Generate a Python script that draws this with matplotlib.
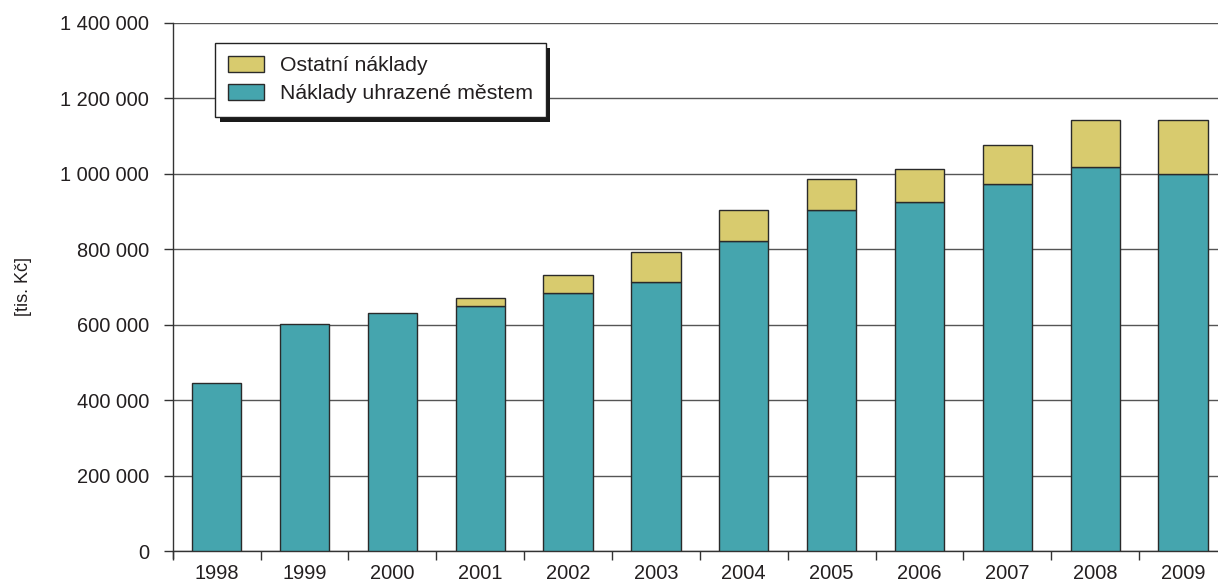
import matplotlib
matplotlib.use("Agg")
import matplotlib.pyplot as plt
import numpy as np
from matplotlib.patches import Rectangle, Patch
from matplotlib.transforms import IdentityTransform
from matplotlib.ticker import FuncFormatter, FixedLocator

years = ["1998", "1999", "2000", "2001", "2002", "2003", "2004", "2005", "2006", "2007", "2008", "2009"]
city_costs = [445000, 602000, 630000, 650000, 684000, 712000, 821000, 903000, 924000, 972000, 1019000, 999000]
other_costs = [0, 0, 0, 21000, 48000, 82000, 82000, 82000, 88000, 103000, 124000, 144000]
yticks = [0, 200000, 400000, 600000, 800000, 1000000, 1200000, 1400000]

TEAL = "#45A5AE"
YELLOW = "#D8CB6E"
TXT = "#231F20"
EDGE = "#2a2a2a"

plt.rcParams["font.family"] = ["Liberation Sans", "DejaVu Sans"]

fig = plt.figure(figsize=(12.18, 5.85), dpi=100)
W, H = 1218, 585
left, right, bottom, top = 172.7, 172.7 + 12 * 87.86, 551.3, 22.7
ax = fig.add_axes([left / W, (H - bottom) / H, (right - left) / W, (bottom - top) / H])

x = np.arange(len(years))
bw = 0.56
b1 = ax.bar(x, city_costs, width=bw, color=TEAL, edgecolor=EDGE, linewidth=1.0, zorder=3)
b2 = ax.bar(x, other_costs, width=bw, bottom=city_costs, color=YELLOW, edgecolor=EDGE,
            linewidth=1.0, zorder=3)
for rect, v in zip(b2, other_costs):
    if v == 0:
        rect.set_linewidth(0)

ax.set_xlim(-0.5, len(years) - 0.5)
ax.set_ylim(0, 1400000)

ax.yaxis.set_major_locator(FixedLocator(yticks))
ax.yaxis.set_major_formatter(FuncFormatter(lambda v, p: f"{int(v):,}".replace(",", " ")))
ax.grid(axis="y", color="#555555", linewidth=1.0, zorder=0)
ax.set_axisbelow(True)

ax.set_xticks(x)
ax.set_xticklabels(years)
ax.set_xticks(np.arange(-0.5, len(years), 1.0), minor=True)
ax.tick_params(axis="x", which="major", length=0, pad=9, labelsize=14.4, labelcolor=TXT)
ax.tick_params(axis="x", which="minor", length=6.5, width=1.0, color="#333333", direction="out")
ax.tick_params(axis="y", which="major", length=6.5, width=1.0, color="#333333",
               direction="out", pad=10.5, labelsize=14.4, labelcolor=TXT)

for s in ["top", "right"]:
    ax.spines[s].set_visible(False)
ax.spines["left"].set_color("#333333")
ax.spines["bottom"].set_color("#333333")
ax.spines["left"].set_linewidth(1.0)
ax.spines["bottom"].set_linewidth(1.0)
ax.spines["left"].set_bounds(-18000, 1400000)

ax.set_ylabel("[tis. Kč]", fontsize=13, color=TXT)
ax.yaxis.set_label_coords(-0.133, 0.5)

handles = [Patch(facecolor=YELLOW, edgecolor=EDGE, linewidth=1.0),
           Patch(facecolor=TEAL, edgecolor=EDGE, linewidth=1.0)]
labels = ["Ostatní náklady", "Náklady uhrazené městem"]
leg = ax.legend(handles, labels, loc="upper left",
                bbox_to_anchor=((215 - left) / (right - left), (bottom - 42.7) / (bottom - top)),
                borderaxespad=0, fancybox=False, frameon=True, fontsize=15.3,
                handlelength=1.7, handleheight=0.8, handletextpad=0.72,
                borderpad=0.62, labelspacing=0.4, labelcolor=TXT)
leg.get_frame().set_edgecolor("#222222")
leg.get_frame().set_linewidth(1.0)
leg.get_frame().set_facecolor("white")
leg.get_frame().set_alpha(1.0)
leg.set_zorder(10)

fig.canvas.draw()
bb = leg.get_frame().get_window_extent()
shadow = Rectangle((bb.x0 + 4.5, bb.y0 - 5), bb.width, bb.height, transform=IdentityTransform(),
                   facecolor="#1a1a1a", edgecolor="none", zorder=9, clip_on=False)
ax.add_artist(shadow)

fig.savefig("out.png", dpi=100)
